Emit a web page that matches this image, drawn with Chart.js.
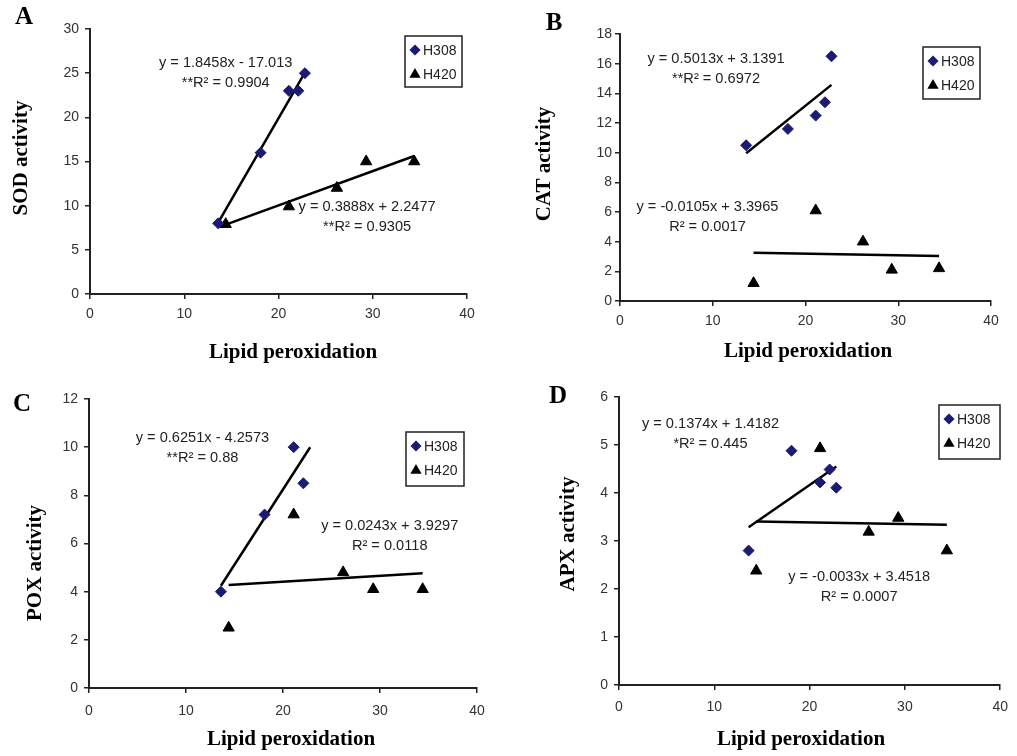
<!DOCTYPE html>
<html>
<head>
<meta charset="utf-8">
<script src="https://cdn.jsdelivr.net/npm/chart.js@4.4.1/dist/chart.umd.min.js"></script>
<style>
  body { margin: 0; background: #fff; width: 1017px; height: 756px; position: relative; overflow: hidden; }
  canvas { position: absolute; }
</style>
</head>
<body>
<canvas id="chartA" width="508" height="378" style="left:0;top:0"></canvas>
<canvas id="chartB" width="509" height="378" style="left:508px;top:0"></canvas>
<canvas id="chartC" width="508" height="378" style="left:0;top:378px"></canvas>
<canvas id="chartD" width="509" height="378" style="left:508px;top:378px"></canvas>
<script>
// Lipid peroxidation (x) for each hybrid
const lipidH308 = [13.6, 18.1, 21.1, 22.1, 22.8];
const lipidH420 = [14.4, 21.1, 26.2, 29.3, 34.4];
const lipidH308Pox = [13.6, 18.1, 21.1, 22.1];

// Enzyme activities (y)
const sodH308 = [8.0, 16.0, 23.0, 23.0, 25.0];
const sodH420 = [7.9, 9.9, 12.0, 15.0, 15.0];
const catH308 = [10.5, 11.6, 12.5, 13.4, 16.5];
const catH420 = [1.2, 6.1, 4.0, 2.1, 2.2];
const poxH308 = [4.0, 7.2, 10.0, 8.5];
const poxH420 = [2.5, 7.2, 4.8, 4.1, 4.1];
const apxH308 = [2.8, 4.88, 4.22, 4.49, 4.11];
const apxH420 = [2.38, 4.93, 3.19, 3.48, 2.8];

// Trendline equations printed on the chart: [slope, intercept]
const sodFit = [[1.8458, -17.013], [0.3888, 2.2477]];
const catFit = [[0.5013, 3.1391], [-0.0105, 3.3965]];
const poxFit = [[0.6251, -4.2573], [0.0243, 3.9297]];
const apxFit = [[0.1374, 1.4182], [-0.0033, 3.4518]];

const sodEq = [['y = 1.8458x - 17.013', '**R\u00b2 = 0.9904'], ['y = 0.3888x + 2.2477', '**R\u00b2 = 0.9305']];
const catEq = [['y = 0.5013x + 3.1391', '**R\u00b2 = 0.6972'], ['y = -0.0105x + 3.3965', 'R\u00b2 = 0.0017']];
const poxEq = [['y = 0.6251x - 4.2573', '**R\u00b2 = 0.88'], ['y = 0.0243x + 3.9297', 'R\u00b2 = 0.0118']];
const apxEq = [['y = 0.1374x + 1.4182', '*R\u00b2 = 0.445'], ['y = -0.0033x + 3.4518', 'R\u00b2 = 0.0007']];

const seriesNames = ['H308', 'H420'];
const xTitle = 'Lipid peroxidation';

const navy = '#1b1b72';
const sans = '"Liberation Sans", Arial, sans-serif';
const serif = '"Liberation Serif", "Times New Roman", serif';

function pts(xs, ys) {
  return ys.map((y, i) => ({ x: xs[i], y: y }));
}

// straight line across the x range of the series, from the printed equation
function trend(xs, fit) {
  const lo = Math.min(...xs), hi = Math.max(...xs);
  return [{ x: lo, y: fit[0] * lo + fit[1] }, { x: hi, y: fit[0] * hi + fit[1] }];
}

// Panel letter, axis titles, equations and the boxed legend
const panelText = {
  id: 'panelText',
  afterDatasetsDraw(chart, args, opts) {
    const ctx = chart.ctx;
    ctx.save();
    ctx.fillStyle = '#000';
    ctx.textAlign = 'center';
    ctx.textBaseline = 'middle';

    ctx.font = 'bold 25px ' + serif;
    ctx.fillText(opts.letter, opts.letterAt[0], opts.letterAt[1]);

    ctx.font = 'bold 21px ' + serif;
    ctx.fillText(xTitle, opts.xTitleAt[0], opts.xTitleAt[1]);
    ctx.save();
    ctx.translate(opts.yTitleAt[0], opts.yTitleAt[1]);
    ctx.rotate(-Math.PI / 2);
    ctx.fillText(opts.yTitle, 0, 0);
    ctx.restore();

    // trendline equations
    ctx.font = '14.6px ' + sans;
    ctx.fillStyle = '#222';
    opts.equations.forEach(eq => {
      const px = chart.scales.x.getPixelForValue(eq.at[0]);
      const py = chart.scales.y.getPixelForValue(eq.at[1]);
      eq.lines.forEach((t, i) => ctx.fillText(t, px, py + i * 20));
    });

    // legend
    const b = opts.legendBox;
    ctx.strokeStyle = '#222';
    ctx.lineWidth = 1.5;
    ctx.strokeRect(b[0], b[1], b[2], b[3]);
    ctx.font = '14px ' + sans;
    ctx.textAlign = 'left';
    chart.data.datasets.filter(d => d.label).forEach((d, i) => {
      const y = b[1] + 14 + i * 24.5;
      ctx.fillStyle = d.backgroundColor;
      ctx.strokeStyle = d.borderColor;
      Chart.helpers.drawPoint(ctx, { pointStyle: d.pointStyle, radius: d.pointStyle === 'triangle' ? 5 : 4.5, rotation: 0, borderWidth: 1 }, b[0] + 10, y);
      ctx.fillStyle = '#222';
      ctx.fillText(d.label, b[0] + 18, y + 1);
    });
    ctx.restore();
  }
};

function makeChart(id, p) {
  const axisFont = { family: sans, size: 14 };
  return new Chart(document.getElementById(id), {
    type: 'scatter',
    data: {
      datasets: [
        { label: seriesNames[0], data: pts(p.x308, p.y308), pointStyle: 'rectRot', pointRadius: 5.5,
          backgroundColor: navy, borderColor: navy, borderWidth: 1 },
        { label: seriesNames[1], data: pts(lipidH420, p.y420), pointStyle: 'triangle', pointRadius: 6.5,
          backgroundColor: '#000', borderColor: '#000', borderWidth: 1 },
        { label: '', data: trend(lipidH308, p.fit[0]), showLine: true, pointRadius: 0,
          borderColor: '#000', borderWidth: 2.5 },
        { label: '', data: trend(lipidH420, p.fit[1]), showLine: true, pointRadius: 0,
          borderColor: '#000', borderWidth: 2.5 }
      ]
    },
    options: {
      responsive: false,
      animation: false,
      clip: false,
      layout: { padding: { left: 0, top: p.area.top, right: p.canvasW - p.area.right, bottom: 0 } },
      plugins: {
        legend: { display: false },
        tooltip: { enabled: false },
        panelText: {
          letter: p.letter, letterAt: p.letterAt, yTitle: p.yTitle,
          xTitleAt: p.xTitleAt, yTitleAt: p.yTitleAt,
          legendBox: p.legendBox,
          equations: [{ at: p.eqAt[0], lines: p.eq[0] }, { at: p.eqAt[1], lines: p.eq[1] }]
        }
      },
      scales: {
        x: {
          type: 'linear', min: 0, max: 40,
          ticks: { stepSize: 10, font: axisFont, color: '#333', padding: p.xPad },
          grid: { drawOnChartArea: false, tickLength: 5, color: '#222', lineWidth: 1.5 },
          border: { color: '#222', width: 2 },
          afterFit(s) { s.height = 378 - p.area.bottom; }
        },
        y: {
          type: 'linear', min: 0, max: p.yMax,
          ticks: { stepSize: p.yStep, font: axisFont, color: '#333', padding: p.yPad },
          grid: { drawOnChartArea: false, tickLength: 5, color: '#222', lineWidth: 1.5 },
          border: { color: '#222', width: 2 },
          afterFit(s) { s.width = p.area.left; }
        }
      }
    },
    plugins: [panelText]
  });
}

makeChart('chartA', {
  canvasW: 508, area: { left: 90, top: 29, right: 467, bottom: 294 },
  x308: lipidH308, y308: sodH308, y420: sodH420, fit: sodFit, eq: sodEq,
  eqAt: [[14.4, 26.2], [29.4, 9.85]],
  yMax: 30, yStep: 5, xPad: 7, yPad: 6,
  letter: 'A', letterAt: [24, 18], yTitle: 'SOD activity',
  xTitleAt: [293, 353], yTitleAt: [22, 158], legendBox: [405, 36, 57, 51]
});

makeChart('chartB', {
  canvasW: 509, area: { left: 112, top: 34, right: 483, bottom: 301 },
  x308: lipidH308, y308: catH308, y420: catH420, fit: catFit, eq: catEq,
  eqAt: [[10.35, 16.3], [9.43, 6.34]],
  yMax: 18, yStep: 2, xPad: 7, yPad: 3,
  letter: 'B', letterAt: [46, 24], yTitle: 'CAT activity',
  xTitleAt: [300, 352], yTitleAt: [37, 164], legendBox: [415, 47, 57, 52]
});

makeChart('chartC', {
  canvasW: 508, area: { left: 89, top: 21, right: 477, bottom: 310 },
  x308: lipidH308Pox, y308: poxH308, y420: poxH420, fit: poxFit, eq: poxEq,
  eqAt: [[11.7, 10.38], [31.0, 6.73]],
  yMax: 12, yStep: 2, xPad: 10, yPad: 6,
  letter: 'C', letterAt: [22, 27], yTitle: 'POX activity',
  xTitleAt: [291, 362], yTitleAt: [36, 185], legendBox: [406, 54, 58, 54]
});

makeChart('chartD', {
  canvasW: 509, area: { left: 111, top: 19, right: 497, bottom: 307 },
  x308: lipidH308, y308: apxH308, y420: apxH420, fit: apxFit, eq: apxEq,
  eqAt: [[9.6, 5.44], [25.2, 2.25]],
  yMax: 6, yStep: 1, xPad: 9, yPad: 6,
  letter: 'D', letterAt: [50, 19], yTitle: 'APX activity',
  xTitleAt: [293, 362], yTitleAt: [61, 156], legendBox: [431, 27, 61, 54]
});
</script>
</body>
</html>
